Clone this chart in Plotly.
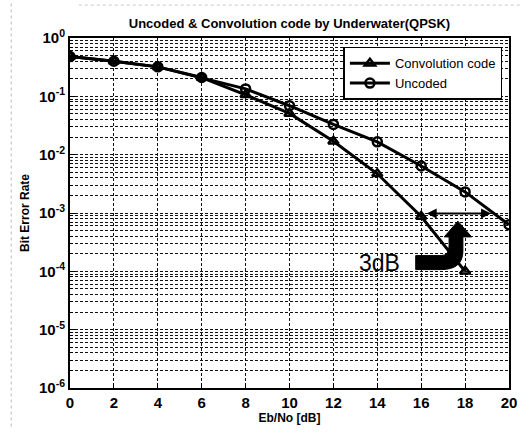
import numpy as np
import plotly.graph_objects as go

# Eb/No sweep in dB
ebno_db = [0, 2, 4, 6, 8, 10, 12, 14, 16, 18, 20]

# Bit error rates for each scheme
ber_convolution = [0.48, 0.40, 0.32, 0.21, 0.106, 0.051, 0.017, 0.0047, 0.00087, 0.0001]
ber_uncoded = [0.48, 0.40, 0.32, 0.21, 0.134, 0.069, 0.033, 0.0166, 0.0064, 0.0023, 0.00063]

y_tick_vals = [1, 1e-1, 1e-2, 1e-3, 1e-4, 1e-5, 1e-6]
y_tick_text = ["10<sup>0</sup>", "10<sup>-1</sup>", "10<sup>-2</sup>", "10<sup>-3</sup>",
               "10<sup>-4</sup>", "10<sup>-5</sup>", "10<sup>-6</sup>"]
x_tick_vals = [0, 2, 4, 6, 8, 10, 12, 14, 16, 18, 20]

X_RANGE = (0, 20)
LOGY_RANGE = (-6, 0)

FONT = "Liberation Sans, Arial, sans-serif"

fig = go.Figure()

fig.add_trace(go.Scatter(
    x=ebno_db[:len(ber_convolution)], y=ber_convolution,
    mode="lines+markers", name="Convolution code",
    line=dict(color="black", width=3),
    marker=dict(symbol="triangle-up-open", size=9, color="black", line=dict(width=2.5)),
))
fig.add_trace(go.Scatter(
    x=ebno_db, y=ber_uncoded,
    mode="lines+markers", name="Uncoded",
    line=dict(color="black", width=3),
    marker=dict(symbol="circle-open", size=9, color="black", line=dict(width=2.5)),
))


def to_paper(x, logy):
    px = (x - X_RANGE[0]) / (X_RANGE[1] - X_RANGE[0])
    py = (logy - LOGY_RANGE[0]) / (LOGY_RANGE[1] - LOGY_RANGE[0])
    return px, py


# bent "3dB" call-out arrow, outline given in (dB, log10 BER)
bend = [(15.75, -3.73), (16.91, -3.73), "Q", (17.27, -3.73), (17.27, -3.56),
        (17.27, -3.41), (17.05, -3.41), (17.67, -3.14), (18.30, -3.41),
        (17.90, -3.41), (17.90, -3.65), "Q", (17.90, -3.97), (16.91, -3.97),
        (15.75, -3.97)]
parts = []
cmd = "M"
for p in bend:
    if p == "Q":
        cmd = "Q"
        continue
    px, py = to_paper(*p)
    if cmd == "Q":
        parts.append(f"Q {px:.4f},{py:.4f}")
        cmd = "Qb"
    elif cmd == "Qb":
        parts.append(f"{px:.4f},{py:.4f}")
        cmd = "L"
    else:
        parts.append(f"{cmd} {px:.4f},{py:.4f}")
        cmd = "L"
path = " ".join(parts) + " Z"
fig.add_shape(type="path", path=path, xref="paper", yref="paper",
              fillcolor="black", line=dict(color="black", width=1))

# faint page frame lines
fig.add_shape(type="line", xref="paper", yref="paper", x0=-0.134, x1=-0.134, y0=-0.11, y1=1.1,
              line=dict(color="#b8b8b8", width=1, dash="dot"))
fig.add_shape(type="line", xref="paper", yref="paper", x0=0.02, x1=1.03, y0=1.094, y1=1.094,
              line=dict(color="#c8c8c8", width=1, dash="dot"))

# two-headed arrow spanning the coding gain
fig.add_annotation(x=16.25, y=-3.01, ax=19.25, ay=-3.01,
                   xref="x", yref="y", axref="x", ayref="y",
                   text="", showarrow=True, arrowhead=2, startarrowhead=2,
                   arrowside="end+start", arrowsize=1, startarrowsize=1,
                   arrowwidth=2, arrowcolor="black")
fig.add_annotation(x=14.1, y=-3.85, xref="x", yref="y", text="3dB",
                   showarrow=False, font=dict(family=FONT, size=23, color="black"))

grid = dict(gridcolor="#111111", griddash="3px,2px", gridwidth=1)

fig.update_layout(
    width=526, height=432,
    margin=dict(l=70, r=9, t=38, b=37),
    paper_bgcolor="white", plot_bgcolor="white",
    font=dict(family=FONT, color="black", size=13),
    title=dict(text="Uncoded & Convolution code by Underwater(QPSK)",
               x=0.5, xref="paper", y=1 - 23 / 432, yanchor="middle",
               font=dict(size=13, weight="bold")),
    showlegend=True,
    legend=dict(x=0.985, y=0.975, xanchor="right", yanchor="top",
                bgcolor="white", bordercolor="black", borderwidth=1.5,
                font=dict(size=13), tracegroupgap=0, itemwidth=40),
    xaxis=dict(range=list(X_RANGE), tickvals=x_tick_vals,
               title=dict(text="Eb/No [dB]", font=dict(size=12, weight="bold"), standoff=4),
               tickfont=dict(size=15, weight="bold"),
               showline=True, linecolor="black", linewidth=2, mirror=True,
               ticks="inside", ticklen=5, tickcolor="black",
               showgrid=True, zeroline=False, **grid),
    yaxis=dict(type="log", range=list(LOGY_RANGE), tickvals=y_tick_vals, ticktext=y_tick_text,
               title=dict(text="Bit Error Rate", font=dict(size=12, weight="bold"), standoff=7),
               tickfont=dict(size=15, weight="bold"),
               showline=True, linecolor="black", linewidth=2, mirror=True,
               ticks="inside", ticklen=5, tickcolor="black",
               showgrid=True, zeroline=False,
               minor=dict(dtick="D1", showgrid=True, gridcolor="#111111", griddash="3px,2px",
                          gridwidth=1, ticks="inside", ticklen=3, tickcolor="black"),
               **grid),
)

fig.write_html("out.html")
